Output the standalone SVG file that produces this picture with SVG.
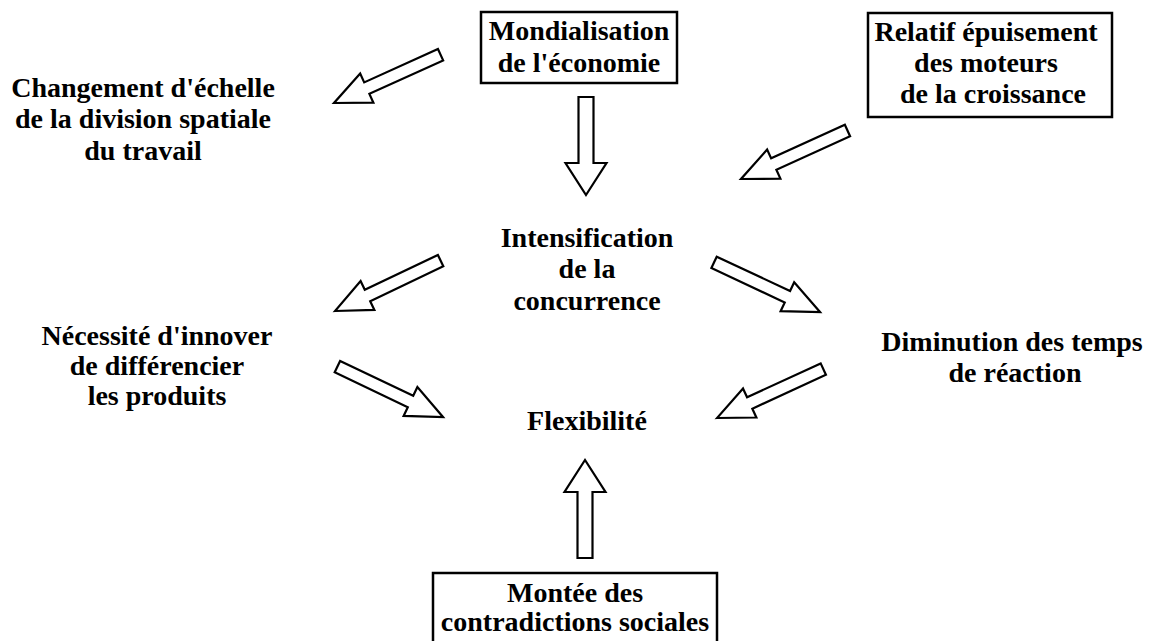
<svg xmlns="http://www.w3.org/2000/svg" xmlns:xlink="http://www.w3.org/1999/xlink" width="1151" height="641" viewBox="0 0 1151 641">
<style>
text{font-family:"Liberation Serif","Times New Roman",serif;font-weight:bold;font-size:28px;fill:#000;text-anchor:middle}
.box{fill:#fff;stroke:#000;stroke-width:2.5}
.arr{fill:#fff;stroke:#000;stroke-width:2.2;stroke-linejoin:miter}
</style>
<defs>
<path id="diag" d="M0,0 L-36,-16 L-36,-6.3 L-117,-6.3 L-117,6.3 L-36,6.3 L-36,16 Z"/>
<path id="vert" d="M0,0 L-32,-20.5 L-32,-7.5 L-98,-7.5 L-98,7.5 L-32,7.5 L-32,20.5 Z"/>
</defs>
<rect width="1151" height="641" fill="#fff"/>
<g id="connectors" class="arr">
<use xlink:href="#diag" href="#diag" transform="translate(334,103) rotate(155.6)"/>
<use xlink:href="#diag" href="#diag" transform="translate(741,179) rotate(155.5)"/>
<use xlink:href="#diag" href="#diag" transform="translate(335,311) rotate(154.5)"/>
<use xlink:href="#diag" href="#diag" transform="translate(820,312) rotate(25.1)"/>
<use xlink:href="#diag" href="#diag" transform="translate(443,417) rotate(25.5)"/>
<use xlink:href="#diag" href="#diag" transform="translate(717,418) rotate(155.3)"/>
<use xlink:href="#vert" href="#vert" transform="translate(586,195) rotate(90)"/>
<use xlink:href="#vert" href="#vert" transform="translate(585,460) rotate(-90)"/>
</g>
<g id="mondialisation">
<rect class="box" x="481" y="12" width="196" height="71"/>
<text x="579" y="40">Mondialisation</text>
<text x="579" y="72">de l'économie</text>
</g>
<g id="relatif">
<rect class="box" x="868" y="13" width="244" height="104"/>
<text x="986" y="41">Relatif épuisement</text>
<text x="986" y="72">des moteurs</text>
<text x="993" y="103">de la croissance</text>
</g>
<g id="changement">
<text x="143" y="97">Changement d'échelle</text>
<text x="143" y="128">de la division spatiale</text>
<text x="143" y="160">du travail</text>
</g>
<g id="intensification">
<text x="587" y="247">Intensification</text>
<text x="587" y="278">de la</text>
<text x="587" y="310">concurrence</text>
</g>
<g id="necessite">
<text x="157" y="345">Nécessité d'innover</text>
<text x="157" y="375">de différencier</text>
<text x="157" y="405">les produits</text>
</g>
<g id="diminution">
<text x="1012" y="351">Diminution des temps</text>
<text x="1015" y="382">de réaction</text>
</g>
<g id="flexibilite">
<text x="587" y="430">Flexibilité</text>
</g>
<g id="montee">
<rect class="box" x="433" y="573" width="284" height="80"/>
<text x="575" y="602">Montée des</text>
<text x="575" y="631">contradictions sociales</text>
</g>
</svg>
